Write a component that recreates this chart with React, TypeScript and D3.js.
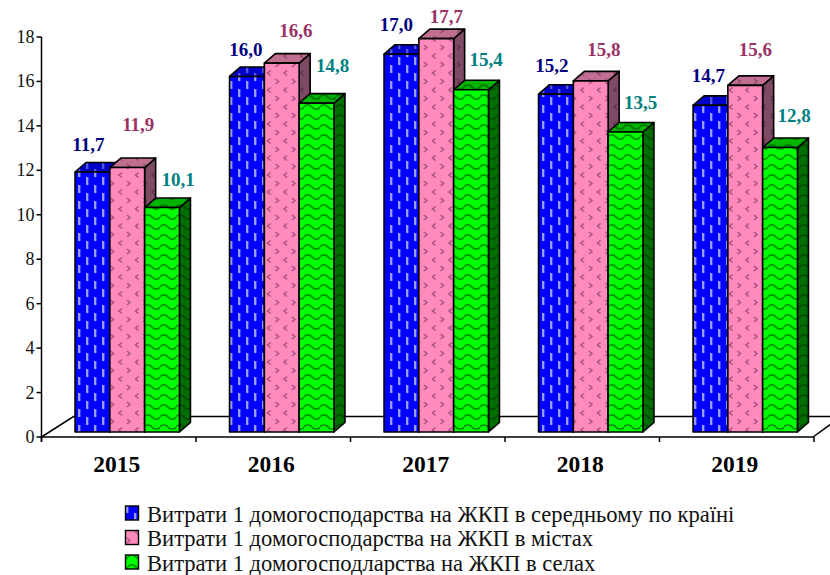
import React from "react";
import * as d3 from "d3";

const years = ["2015", "2016", "2017", "2018", "2019"];
const seriesNames = [
  "Витрати 1 домогосподарства на ЖКП в середньому по країні",
  "Витрати 1 домогосподарства на ЖКП в містах",
  "Витрати 1 домогосподларства на ЖКП в селах",
];
const national = [11.7, 16.0, 17.0, 15.2, 14.7];
const urban = [11.9, 16.6, 17.7, 15.8, 15.6];
const rural = [10.1, 14.8, 15.4, 13.5, 12.8];
const yTicks = [0, 2, 4, 6, 8, 10, 12, 14, 16, 18];

const W = 830, H = 575;
const axisX = 41.5, axisRight = 814, axisFloorY = 437, top18 = 37;
const baseShift = 5; // bar base sits above the axis line
const depthX = 11, depthY = 9.5;
const barW = 34.8;

const styles = [
  { label: "#000080", pat: "pBlue", patTop: "pBlueTop", patSide: "pBlueTop", stroke: "#000" },
  { label: "#993366", pat: "pPink", patTop: "pPinkTop", patSide: "pPinkSide", stroke: "#000" },
  { label: "#008080", pat: "pGreen", patTop: "pGreenTop", patSide: "pGreenSide", stroke: "#000" },
];
// Hand placement of the value labels relative to the bar tops, as in the source chart
const labelDx = [
  [-4, 11, 16], [-1, 14, 16], [-5, 10, 15], [-4, 13, 15], [-2, 10, 14],
];
const labelDy = [
  [-21, -37, -22], [-20, -26, -31], [-23, -16, -24], [-22, -25, -23], [-23, -29, -26],
];

const y = d3.scaleLinear().domain([0, 18]).range([axisFloorY, top18]);
const x = d3.scaleBand<string>().domain(years).range([axisX, axisRight]);
const fmt = (v: number) => v.toFixed(1).replace(".", ",");
const allSeries = [national, urban, rural];

function Chevron({ cx, cy, dir, c }: { cx: number; cy: number; dir: number; c: string }) {
  return <path d={`M${cx - dir * 1.5},${cy - 2.5}L${cx + dir * 1.5},${cy}L${cx - dir * 1.5},${cy + 2.5}`} fill="none" stroke={c} strokeWidth={1.5} />;
}
function BlueTile({ id, bg, c }: { id: string; bg: string; c: string }) {
  return (
    <pattern id={id} width={16} height={16} patternUnits="userSpaceOnUse" x={3} y={0}>
      <rect width={16} height={16} fill={bg} />
      <rect x={3} y={1} width={2.4} height={8} fill={c} />
      <rect x={11} y={9} width={2.4} height={8} fill={c} />
      <rect x={11} y={-7} width={2.4} height={8} fill={c} />
    </pattern>
  );
}
function PinkTile({ id, bg, c }: { id: string; bg: string; c: string }) {
  return (
    <pattern id={id} width={16.5} height={17} patternUnits="userSpaceOnUse" x={1} y={1}>
      <rect width={16.5} height={17} fill={bg} />
      <Chevron cx={4} cy={4} dir={-1} c={c} />
      <Chevron cx={12} cy={12.5} dir={1} c={c} />
    </pattern>
  );
}
function GreenTile({ id, bg, c }: { id: string; bg: string; c: string }) {
  return (
    <pattern id={id} width={16} height={10} patternUnits="userSpaceOnUse" x={0} y={2}>
      <rect width={16} height={10} fill={bg} />
      <path d="M-1,5.4Q4,0.5 8,5T17,4.6" fill="none" stroke={c} strokeWidth={1.9} />
    </pattern>
  );
}

export default function App() {
  const base = axisFloorY - baseShift;
  const ppu = (axisFloorY - top18) / 18;
  return (
    <svg width={W} height={H} style={{ position: "absolute", left: 0, top: 0, background: "#fff" }} fontFamily="'Liberation Serif', serif">
      <defs>
        <BlueTile id="pBlue" bg="#0000ff" c="#9a9aff" />
        <BlueTile id="pBlueTop" bg="#0000c8" c="#5555dd" />
        <PinkTile id="pPink" bg="#ff8abc" c="#a84e80" />
        <PinkTile id="pPinkTop" bg="#c06f92" c="#8a4a68" />
        <PinkTile id="pPinkSide" bg="#7f4a64" c="#5f3048" />
        <GreenTile id="pGreen" bg="#00ff00" c="#009800" />
        <GreenTile id="pGreenTop" bg="#00b400" c="#007800" />
        <GreenTile id="pGreenSide" bg="#006f00" c="#004c00" />
      </defs>

      {/* floor */}
      <path d={`M${axisX},${axisFloorY}L${axisX + 32},416.5H830`} fill="none" stroke="#000" strokeWidth={1.5} />
      <path d={`M${axisRight - 1},${axisFloorY}L831,424`} fill="none" stroke="#000" strokeWidth={1.5} />

      {/* axes */}
      <line x1={axisX} x2={axisX} y1={top18} y2={axisFloorY + 5} stroke="#000" strokeWidth={1.5} />
      <line x1={axisX - 1} x2={axisRight} y1={axisFloorY} y2={axisFloorY} stroke="#000" strokeWidth={1.5} />
      {yTicks.map((t) => (
        <g key={t}>
          <line x1={axisX - 5} x2={axisX} y1={y(t)} y2={y(t)} stroke="#000" strokeWidth={1.5} />
          <text x={axisX - 7} y={y(t) + 6} textAnchor="end" fontSize={18} fill="#111">{t}</text>
        </g>
      ))}
      {[...years.map((c) => x(c) as number), axisRight].map((px) => (
        <line key={px} x1={px} x2={px} y1={axisFloorY} y2={axisFloorY + 5} stroke="#000" strokeWidth={1.5} />
      ))}
      {years.map((c) => (
        <text key={c} x={(x(c) as number) + x.bandwidth() / 2 - 2} y={472} textAnchor="middle" fontSize={23.5} fontWeight="bold" fill="#000">{c}</text>
      ))}

      {/* bars */}
      {years.map((c, i) => {
        const x0 = (x(c) as number) + x.bandwidth() / 2 + 8.5 - (barW * 3) / 2;
        return (
          <g key={c}>
            {allSeries.map((vals, s) => {
              const st = styles[s];
              const bx = x0 + s * barW;
              const h = vals[i] * ppu;
              const ty = base - h;
              return (
                <g key={s} stroke={st.stroke} strokeWidth={1.6} strokeLinejoin="round">
                  <path d={`M${bx + barW},${ty}l${depthX},${-depthY}V${base - depthY}l${-depthX},${depthY}Z`} fill={`url(#${st.patSide})`} />
                  <path d={`M${bx},${ty}l${depthX},${-depthY}h${barW}l${-depthX},${depthY}Z`} fill={`url(#${st.patTop})`} />
                  <rect x={bx} y={ty} width={barW} height={h} fill={`url(#${st.pat})`} />
                </g>
              );
            })}
          </g>
        );
      })}

      {/* value labels */}
      {years.map((c, i) => {
        const x0 = (x(c) as number) + x.bandwidth() / 2 + 8.5 - (barW * 3) / 2;
        return allSeries.map((vals, s) => (
          <text
            key={c + s}
            x={x0 + s * barW + barW / 2 + labelDx[i][s]}
            y={base - vals[i] * ppu + labelDy[i][s]}
            textAnchor="middle"
            fontSize={19}
            fontWeight="bold"
            fill={styles[s].label}
          >
            {fmt(vals[i])}
          </text>
        ));
      })}

      {/* legend */}
      {seriesNames.map((n, s) => {
        const ly = 506 + s * 24.5;
        return (
          <g key={n}>
            <rect x={125.5} y={ly} width={13} height={14} fill={`url(#${styles[s].pat})`} stroke="#000" strokeWidth={1.4} />
            <text x={147} y={ly + 15.5} fontSize={22.6} fill="#111">{n}</text>
          </g>
        );
      })}
    </svg>
  );
}
